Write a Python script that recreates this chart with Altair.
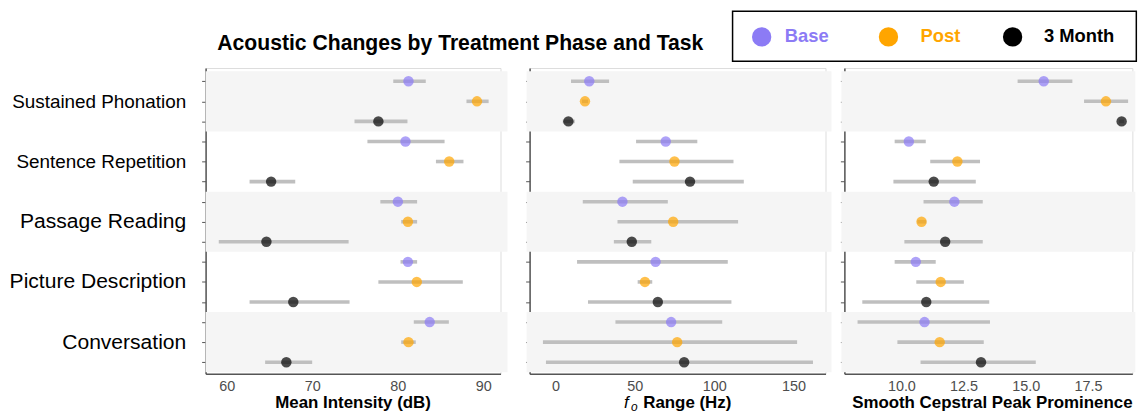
import altair as alt
import pandas as pd

# ---------------- data ----------------
tasks = ["Sustained Phonation", "Sentence Repetition", "Passage Reading",
         "Picture Description", "Conversation"]
phases = ["Base", "Post", "3 Month"]
phase_colors = ["#8c7bf5", "#ffa500", "#000000"]

# rows ordered task-major, phase-minor (Base, Post, 3 Month)
intensity_mean = [81.25, 89.26, 77.73, 80.90, 86.01, 65.19, 80.01, 81.18, 64.64,
                  81.18, 82.22, 67.78, 83.73, 81.25, 66.97]
intensity_lo = [79.47, 88.03, 74.94, 76.45, 84.46, 62.67, 77.96, 80.40, 59.07,
                80.32, 77.73, 62.67, 81.87, 80.40, 64.49]
intensity_hi = [83.27, 90.62, 81.13, 85.47, 87.68, 68.01, 82.26, 82.26, 74.25,
                82.26, 87.60, 74.36, 85.97, 82.10, 69.99]

f0_mean = [21.3, 18.6, 8.15, 69.5, 75.0, 84.8, 42.2, 74.2, 48.1,
           63.1, 56.4, 64.5, 72.9, 76.7, 81.1]
f0_lo = [9.8, 16.7, 4.6, 50.8, 40.3, 48.7, 17.2, 39.1, 36.8,
         13.6, 51.8, 20.5, 37.8, -7.9, -6.0]
f0_hi = [33.8, 20.5, 12.2, 89.4, 112.2, 118.7, 70.8, 115.1, 60.4,
         108.6, 61.0, 110.9, 105.1, 152.3, 162.3]

cpps_mean = [15.72, 18.22, 18.85, 10.30, 12.25, 11.30, 12.13, 10.81, 11.76,
             10.58, 11.58, 11.00, 10.93, 11.54, 13.20]
cpps_lo = [14.67, 17.34, 18.75, 9.73, 11.16, 9.68, 10.89, 10.64, 10.12,
           9.73, 10.60, 8.43, 8.24, 9.84, 10.77]
cpps_hi = [16.87, 19.11, 18.95, 10.98, 13.16, 12.99, 13.27, 11.00, 13.27,
           11.38, 12.51, 13.53, 13.56, 13.31, 15.40]

intensity_ticks = [60, 70, 80, 90]
f0_ticks = [0, 50, 100, 150]
cpps_ticks = [10.0, 12.5, 15.0, 17.5]

# ---------------- tables ----------------
rows = []
for ti, t in enumerate(tasks):
    for pi, p in enumerate(phases):
        k = ti * 3 + pi
        rows.append(dict(task=t, phase=p, row=k + 1,
                         int_m=intensity_mean[k], int_lo=intensity_lo[k], int_hi=intensity_hi[k],
                         f0_m=f0_mean[k], f0_lo=f0_lo[k], f0_hi=f0_hi[k],
                         cp_m=cpps_mean[k], cp_lo=cpps_lo[k], cp_hi=cpps_hi[k]))
df = pd.DataFrame(rows)

Y_MIN, Y_MAX = 0.34, 15.58
bands = []
for ti in range(0, len(tasks), 2):
    bands.append(dict(y1=max(3 * ti + 0.5, Y_MIN), y2=min(3 * ti + 3.5, Y_MAX)))
band_df = pd.DataFrame(bands)

FONT = "Liberation Sans"
PH = 308
color_enc = alt.Color("phase:N", scale=alt.Scale(domain=phases, range=phase_colors), legend=None)
yscale = alt.Scale(domain=[Y_MIN, Y_MAX], reverse=True, nice=False, zero=False)

centers = {3 * i + 2: t for i, t in enumerate(tasks)}
expr = "''"
for v, t in reversed(list(centers.items())):
    expr = f"datum.value == {v} ? '{t}' : ({expr})"


def y_axis(show_labels):
    if show_labels:
        return alt.Axis(values=list(range(1, 16)), labelExpr=expr, title="",
                        labelFont=FONT, labelColor="#000000",
                        labelFontSize={"condition": {"test": "datum.value <= 6", "value": 19},
                                       "value": 21.2},
                        labelPadding=16, labelLimit=400, tickSize=4, tickColor="#555555",
                        domainColor="#555555", domainWidth=1.5, grid=False)
    return alt.Axis(values=list(range(1, 16)), labels=False, title="", tickSize=4,
                    tickColor="#555555", domainColor="#555555", domainWidth=1.5, grid=False)


def panel(key, domain, ticks, fmt, width, show_labels, title_parts, band_ext, extra=()):
    xs = alt.Scale(domain=domain, nice=False, zero=False)
    xaxis = alt.Axis(values=ticks, format=fmt, title="", grid=False, ticks=False,
                     labelFont=FONT, labelFontSize=14.5, labelColor="#4d4d4d",
                     labelPadding=6, domainColor="#555555", domainWidth=1.5)
    yax = y_axis(show_labels)
    bg = alt.Chart(band_df).mark_rect(color="#f5f5f5").encode(
        y=alt.Y("y1:Q", scale=yscale, axis=yax), y2="y2:Q",
        x=alt.value(band_ext[0]), x2=alt.value(width + band_ext[1]))
    err = alt.Chart(df).mark_rule(color="#bfbfbf", strokeWidth=3.6).encode(
        x=alt.X(f"{key}_lo:Q", scale=xs, axis=xaxis), x2=f"{key}_hi:Q",
        y=alt.Y("row:Q", scale=yscale, axis=yax))
    pts = alt.Chart(df).mark_circle(size=110, opacity=0.7).encode(
        x=alt.X(f"{key}_m:Q", scale=xs, axis=xaxis),
        y=alt.Y("row:Q", scale=yscale, axis=yax),
        color=color_enc)
    layers = [bg, err, pts]
    for txt, dx, dy, size, style, weight, align in title_parts:
        layers.append(alt.Chart(band_df.head(1)).mark_text(
            text=txt, font=FONT, fontSize=size, fontStyle=style, fontWeight=weight,
            align=align, baseline="alphabetic", color="#000000").encode(
            x=alt.value(dx), y=alt.value(dy)))
    layers.extend(extra)
    return alt.layer(*layers).properties(width=width, height=PH)


# ---------------- header: title + legend (pixel layout above the first panel) ----------------
legend_df = pd.DataFrame({"phase": phases, "cx": [560, 687.7, 812.7], "tx": [583.3, 720, 844.3]})
one = pd.DataFrame({"a": [0]})
title = alt.Chart(one).mark_text(
    text="Acoustic Changes by Treatment Phase and Task", font=FONT, fontSize=21.3,
    fontWeight="bold", align="center", baseline="middle", color="#000000").encode(
    x=alt.value(256.5), y=alt.value(-24.5))
box = alt.Chart(one).mark_rect(fill="white", stroke="black", strokeWidth=1.5).encode(
    x=alt.value(530.7), x2=alt.value(937.3), y=alt.value(-57.2), y2=alt.value(-6.7))
ldots = alt.Chart(legend_df).mark_circle(size=380, opacity=1).encode(
    x=alt.X("cx:Q", scale=None), y=alt.value(-31.3), color=color_enc)
ltext = alt.Chart(legend_df).mark_text(
    font=FONT, fontSize=18.5, fontWeight="bold", align="left", baseline="middle").encode(
    x=alt.X("tx:Q", scale=None), y=alt.value(-32), text="phase:N", color=color_enc)
# invisible anchor fixing the left edge of the canvas 198 px left of the first panel
anchor = alt.Chart(one).mark_rect(opacity=0).encode(
    x=alt.value(-198), x2=alt.value(-197), y=alt.value(100), y2=alt.value(101))

TB = PH + 34.5
p1 = panel("int", [57.53, 92.01], intensity_ticks, "d", 297, True,
           [("Mean Intensity (dB)", 148.5, TB, 17, "normal", "bold", "center")],
           (0, 7), extra=(title, box, ldots, ltext, anchor))
p2 = panel("f0", [-16.3, 170.2], f0_ticks, "d", 298, False,
           [("f", 97.5, TB, 17, "italic", "normal", "center"),
            ("o", 105.5, TB + 3, 12, "italic", "normal", "center"),
            ("Range (Hz)", 114.4, TB, 17, "normal", "bold", "left")],
           (-3, 6))
p3 = panel("cp", [7.71, 19.28], cpps_ticks, ".1f", 290, False,
           [("Smooth Cepstral Peak Prominence", 149, TB, 17, "normal", "bold", "center")],
           (-3, 3))

inner = alt.hconcat(p2, p3, spacing=19, bounds="flush")
chart = alt.hconcat(p1, inner, spacing=29.3, bounds="flush").properties(padding=0).configure_view(
    strokeWidth=0, stroke="transparent").configure(font=FONT)

chart.save("out.html", embed_options={"renderer": "svg", "actions": False})
